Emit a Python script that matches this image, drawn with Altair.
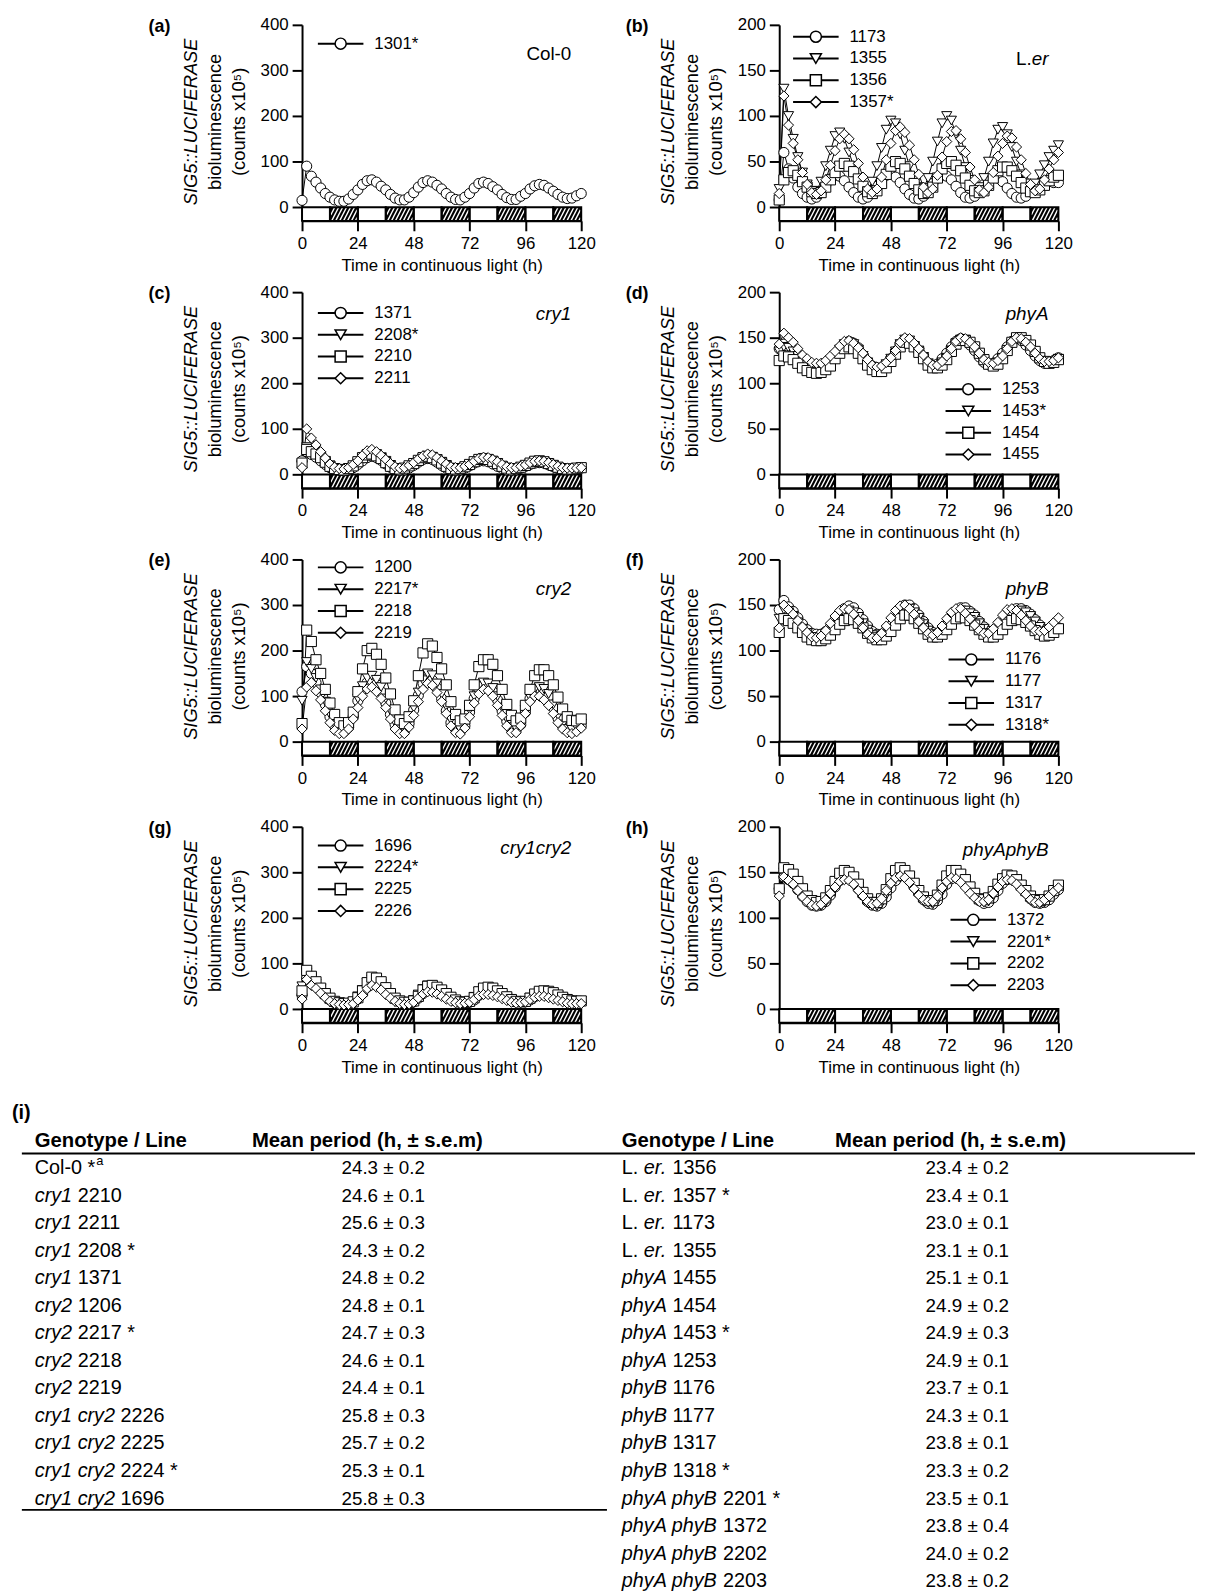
import altair as alt
import pandas as pd

FONT = "Liberation Sans"
HOURS = list(range(0, 121, 2))
SHAPES = ["circle", "triangle-down", "square", "diamond"]
LD_START = list(range(0, 120, 12))
LD_END = list(range(12, 121, 12))
LD_PHASE = ["light", "dark"] * 5
TICKS_X = [0, 24, 48, 72, 96, 120]

# ---------------- series (values every 2 h, 0..120 h) ----------------
a_lines = ["1301*"]
a_1301 = [15, 90, 68, 55, 42, 30, 22, 16, 13, 13, 18, 28, 38, 50, 58, 60, 55, 46, 38, 28,
          20, 16, 16, 22, 32, 44, 54, 58, 55, 48, 40, 30, 22, 17, 16, 22, 30, 42, 52, 55,
          52, 45, 38, 28, 21, 17, 17, 24, 30, 40, 47, 50, 48, 42, 35, 28, 22, 19, 20, 25, 30]

b_lines = ["1173", "1355", "1356", "1357*"]
b_1173 = [8, 60, 42, 32, 22, 15, 11, 9, 11, 16, 24, 31, 35, 34, 29, 22, 16, 11, 9, 11,
          16, 23, 30, 35, 36, 33, 27, 20, 14, 10, 9, 12, 19, 26, 32, 35, 34, 30, 23, 16,
          11, 10, 12, 18, 25, 31, 33, 32, 28, 21, 15, 11, 10, 12, 17, 22, 26, 28, 28, 27, 27]
b_1355 = [20, 130, 100, 75, 55, 38, 25, 17, 18, 28, 45, 62, 78, 82, 75, 60, 45, 30, 22, 19,
          28, 45, 65, 85, 95, 92, 80, 62, 45, 30, 22, 21, 32, 50, 72, 92, 100, 95, 80, 62,
          44, 30, 22, 22, 32, 50, 70, 85, 88, 80, 66, 50, 36, 26, 22, 26, 36, 46, 55, 62, 68]
b_1356 = [8, 30, 38, 40, 35, 28, 22, 17, 15, 16, 22, 30, 38, 45, 48, 45, 39, 31, 23, 17,
          15, 18, 26, 36, 45, 50, 48, 42, 34, 26, 19, 15, 16, 22, 32, 42, 48, 50, 46, 40,
          32, 24, 18, 16, 18, 24, 32, 40, 44, 44, 40, 34, 27, 21, 17, 16, 19, 24, 29, 33, 35]
b_1357 = [15, 122, 90, 70, 52, 38, 25, 16, 14, 18, 30, 46, 62, 75, 80, 75, 63, 48, 33, 20,
          16, 20, 33, 52, 70, 84, 88, 82, 68, 52, 36, 22, 16, 20, 35, 55, 72, 83, 84, 75,
          60, 44, 30, 19, 16, 22, 38, 56, 70, 78, 76, 66, 52, 37, 25, 18, 20, 30, 42, 52, 60]

c_lines = ["1371", "2208*", "2210", "2211"]
c_1371 = [30, 50, 44, 38, 30, 22, 15, 11, 9, 8, 10, 15, 22, 30, 37, 40, 37, 31, 23, 16,
          11, 9, 10, 14, 20, 27, 33, 35, 33, 27, 20, 14, 10, 9, 10, 14, 19, 25, 29, 30,
          28, 23, 18, 13, 10, 9, 10, 14, 18, 22, 25, 26, 25, 21, 17, 13, 11, 10, 11, 12, 14]
c_2208 = [20, 60, 55, 50, 40, 30, 20, 14, 11, 10, 12, 17, 25, 35, 44, 48, 45, 38, 30, 21,
          14, 12, 12, 16, 21, 28, 36, 40, 39, 34, 28, 21, 15, 12, 12, 14, 18, 24, 30, 34,
          33, 30, 25, 19, 14, 12, 12, 14, 18, 23, 27, 28, 27, 24, 20, 16, 13, 12, 12, 13, 14]
c_2210 = [25, 55, 50, 45, 37, 27, 18, 13, 11, 10, 13, 19, 28, 37, 43, 45, 41, 35, 26, 18,
          13, 12, 14, 19, 24, 31, 37, 40, 37, 32, 25, 18, 13, 12, 13, 17, 22, 28, 33, 35,
          33, 29, 24, 18, 14, 12, 13, 16, 20, 25, 29, 30, 28, 24, 20, 16, 13, 12, 12, 14, 15]
c_2211 = [15, 100, 80, 65, 50, 36, 23, 16, 13, 12, 15, 22, 30, 42, 52, 55, 50, 42, 33, 24,
          17, 14, 15, 20, 26, 34, 41, 45, 43, 37, 30, 23, 17, 15, 15, 18, 22, 29, 35, 38,
          37, 33, 28, 22, 17, 15, 15, 18, 21, 26, 29, 30, 29, 26, 22, 18, 15, 14, 14, 14, 15]

d_lines = ["1253", "1453*", "1454", "1455"]
d_1253 = [138, 143, 140, 136, 131, 126, 121, 118, 117, 117, 120, 124, 131, 138, 143, 146, 144, 139, 131, 124,
          119, 117, 117, 121, 127, 135, 143, 148, 147, 142, 135, 128, 121, 119, 121, 127, 133, 140, 146, 149,
          147, 142, 136, 129, 123, 121, 122, 127, 133, 140, 146, 149, 147, 142, 136, 130, 125, 122, 122, 125, 128]
d_1453 = [135, 140, 139, 135, 130, 124, 120, 117, 116, 117, 119, 124, 130, 137, 143, 145, 143, 137, 130, 123,
          118, 116, 117, 121, 127, 135, 143, 148, 147, 141, 136, 129, 122, 119, 119, 123, 128, 136, 144, 148,
          148, 144, 139, 132, 125, 121, 120, 123, 128, 136, 144, 148, 148, 144, 140, 133, 126, 122, 122, 124, 127]
d_1454 = [125, 130, 129, 126, 122, 117, 114, 112, 111, 112, 115, 119, 127, 133, 138, 140, 138, 133, 127, 120,
          115, 113, 113, 117, 124, 132, 140, 145, 144, 140, 134, 127, 120, 117, 117, 120, 126, 135, 143, 147,
          147, 145, 140, 133, 126, 121, 119, 121, 127, 136, 145, 150, 150, 147, 142, 135, 128, 124, 122, 123, 126]
d_1455 = [143, 155, 150, 145, 138, 131, 127, 123, 122, 122, 125, 130, 135, 141, 146, 147, 144, 139, 133, 126,
          120, 118, 119, 123, 128, 136, 145, 150, 149, 144, 138, 131, 124, 120, 120, 124, 130, 138, 146, 150,
          149, 145, 140, 133, 126, 123, 122, 125, 130, 138, 146, 150, 149, 145, 140, 133, 127, 124, 124, 125, 128]

e_lines = ["1200", "2217*", "2218", "2219"]
e_1200 = [110, 165, 150, 130, 108, 82, 55, 36, 25, 22, 32, 55, 90, 115, 130, 135, 126, 110, 85, 60,
          38, 25, 24, 40, 70, 102, 128, 140, 135, 118, 95, 68, 42, 28, 24, 35, 65, 95, 116, 125,
          122, 110, 92, 68, 45, 28, 25, 38, 65, 95, 112, 118, 112, 100, 75, 52, 35, 25, 24, 28, 35]
e_2217 = [90, 175, 160, 140, 115, 88, 60, 38, 28, 25, 38, 62, 95, 122, 140, 145, 136, 120, 95, 68,
          42, 28, 27, 45, 75, 108, 135, 150, 146, 128, 105, 78, 48, 30, 27, 40, 70, 100, 122, 130,
          128, 118, 100, 75, 50, 32, 29, 42, 70, 98, 115, 120, 116, 105, 82, 58, 38, 28, 27, 32, 40]
e_2218 = [40, 245, 220, 180, 150, 115, 85, 60, 42, 35, 42, 65, 110, 160, 200, 205, 192, 170, 140, 105,
          70, 48, 40, 55, 90, 145, 195, 215, 210, 185, 160, 125, 88, 60, 46, 50, 80, 125, 165, 180,
          180, 170, 145, 115, 82, 58, 46, 52, 80, 115, 145, 158, 158, 145, 125, 98, 72, 55, 47, 46, 50]
e_2219 = [28, 120, 130, 112, 92, 68, 42, 25, 18, 18, 28, 50, 75, 100, 116, 120, 110, 95, 75, 50,
          28, 18, 18, 32, 58, 88, 115, 128, 124, 108, 88, 62, 35, 20, 17, 30, 55, 85, 105, 115,
          112, 100, 80, 58, 35, 20, 20, 35, 62, 88, 100, 100, 92, 80, 62, 42, 28, 20, 18, 22, 30]

f_lines = ["1176", "1177", "1317", "1318*"]
f_1176 = [145, 155, 148, 143, 136, 129, 123, 119, 118, 118, 121, 126, 133, 140, 146, 149, 147, 141, 134, 127,
          121, 118, 118, 122, 127, 135, 144, 150, 150, 146, 139, 132, 125, 120, 119, 122, 128, 136, 143, 147,
          147, 143, 139, 132, 126, 121, 120, 123, 128, 135, 142, 146, 146, 144, 140, 134, 128, 123, 121, 122, 125]
f_1177 = [135, 145, 142, 138, 131, 124, 119, 115, 113, 113, 116, 121, 128, 135, 141, 144, 142, 137, 130, 123,
          117, 114, 114, 118, 124, 132, 141, 146, 146, 142, 136, 129, 122, 117, 116, 119, 124, 132, 140, 144,
          144, 141, 137, 130, 124, 119, 118, 121, 125, 132, 139, 143, 144, 142, 138, 132, 126, 121, 119, 120, 123]
f_1317 = [120, 135, 133, 130, 125, 120, 115, 112, 111, 111, 113, 117, 123, 129, 133, 135, 134, 130, 125, 119,
          114, 112, 112, 116, 121, 128, 135, 139, 139, 135, 130, 124, 118, 115, 115, 118, 123, 129, 135, 137,
          136, 133, 128, 123, 118, 115, 115, 118, 123, 129, 133, 135, 134, 131, 127, 122, 118, 116, 117, 120, 124]
f_1318 = [125, 150, 145, 140, 133, 126, 120, 115, 114, 116, 122, 130, 138, 144, 146, 145, 140, 133, 125, 118,
          114, 114, 119, 127, 136, 144, 149, 150, 146, 140, 132, 125, 119, 117, 120, 127, 135, 142, 146, 146,
          141, 135, 128, 122, 119, 119, 124, 131, 139, 145, 146, 144, 139, 133, 127, 122, 121, 122, 126, 131, 136]

g_lines = ["1696", "2224*", "2225", "2226"]
g_1696 = [30, 68, 58, 50, 40, 30, 20, 14, 11, 10, 11, 14, 22, 34, 48, 55, 54, 48, 40, 30,
          21, 16, 13, 13, 16, 24, 34, 42, 45, 43, 38, 31, 24, 19, 15, 14, 15, 20, 30, 38,
          42, 41, 37, 32, 26, 21, 17, 16, 16, 20, 27, 32, 35, 36, 34, 30, 26, 22, 19, 17, 16]
g_2224 = [50, 80, 68, 55, 44, 32, 22, 15, 12, 11, 12, 16, 28, 42, 58, 65, 62, 55, 42, 31,
          22, 16, 13, 14, 20, 32, 44, 52, 51, 46, 40, 32, 24, 18, 15, 14, 18, 27, 38, 45,
          46, 44, 38, 32, 25, 19, 16, 15, 18, 25, 33, 37, 38, 36, 33, 28, 23, 19, 17, 16, 18]
g_2225 = [40, 85, 72, 60, 46, 34, 24, 17, 14, 12, 13, 16, 25, 40, 58, 70, 68, 60, 47, 34,
          24, 18, 15, 15, 18, 28, 42, 50, 52, 48, 42, 34, 26, 20, 16, 15, 17, 25, 38, 46,
          48, 46, 40, 34, 27, 21, 17, 16, 17, 24, 33, 39, 40, 39, 36, 31, 26, 21, 18, 17, 18]
g_2226 = [22, 65, 52, 45, 35, 25, 17, 12, 10, 9, 10, 12, 20, 30, 45, 52, 48, 42, 32, 24,
          17, 12, 10, 11, 15, 24, 33, 38, 37, 33, 28, 22, 17, 14, 12, 13, 15, 21, 29, 32,
          32, 30, 27, 23, 19, 15, 13, 14, 16, 21, 26, 28, 28, 25, 22, 19, 16, 13, 12, 12, 12]

h_lines = ["1372", "2201*", "2202", "2203"]
h_1372 = [132, 145, 142, 138, 131, 124, 118, 114, 113, 114, 118, 125, 134, 141, 144, 143, 139, 132, 125, 118,
          114, 113, 116, 123, 133, 141, 146, 146, 141, 134, 127, 120, 116, 115, 119, 126, 137, 143, 145, 144,
          139, 132, 125, 119, 116, 117, 122, 130, 138, 142, 143, 140, 135, 128, 121, 117, 116, 117, 120, 126, 131]
h_2201 = [128, 150, 146, 142, 134, 126, 120, 115, 113, 113, 117, 125, 135, 143, 147, 147, 142, 134, 126, 119,
          114, 113, 116, 125, 136, 145, 151, 150, 145, 137, 129, 122, 117, 115, 119, 129, 140, 147, 149, 147,
          141, 133, 126, 120, 117, 118, 124, 133, 140, 145, 146, 142, 136, 129, 122, 118, 116, 117, 121, 127, 132]
h_2202 = [132, 155, 153, 148, 140, 132, 124, 119, 117, 118, 122, 130, 140, 149, 152, 150, 145, 137, 128, 121,
          117, 117, 121, 131, 143, 152, 155, 152, 146, 138, 130, 123, 119, 119, 125, 136, 146, 152, 152, 148,
          142, 134, 127, 121, 120, 122, 129, 137, 143, 147, 146, 142, 136, 130, 124, 120, 119, 120, 124, 130, 136]
h_2203 = [124, 145, 141, 137, 130, 123, 118, 114, 113, 115, 120, 127, 134, 140, 142, 141, 137, 130, 124, 118,
          115, 116, 121, 130, 138, 144, 146, 144, 139, 132, 125, 120, 118, 118, 124, 133, 140, 144, 143, 139,
          133, 127, 122, 118, 118, 120, 127, 134, 140, 142, 141, 137, 131, 126, 120, 117, 117, 120, 124, 129, 133]

# ---------------- table (i) ----------------
left_geno = ["Col-0", "cry1", "cry1", "cry1", "cry1", "cry2", "cry2", "cry2", "cry2",
             "cry1 cry2", "cry1 cry2", "cry1 cry2", "cry1 cry2"]
left_line = ["", "2210", "2211", "2208", "1371", "1206", "2217", "2218", "2219",
             "2226", "2225", "2224", "1696"]
left_star = [1, 0, 0, 1, 0, 0, 1, 0, 0, 0, 0, 1, 0]
left_mean = [24.3, 24.6, 25.6, 24.3, 24.8, 24.8, 24.7, 24.6, 24.4, 25.8, 25.7, 25.3, 25.8]
left_sem = [0.2, 0.1, 0.3, 0.2, 0.2, 0.1, 0.3, 0.1, 0.1, 0.3, 0.2, 0.1, 0.3]

right_geno = ["L. er.", "L. er.", "L. er.", "L. er.", "phyA", "phyA", "phyA", "phyA",
              "phyB", "phyB", "phyB", "phyB", "phyA phyB", "phyA phyB", "phyA phyB", "phyA phyB"]
right_line = ["1356", "1357", "1173", "1355", "1455", "1454", "1453", "1253",
              "1176", "1177", "1317", "1318", "2201", "1372", "2202", "2203"]
right_star = [0, 1, 0, 0, 0, 0, 1, 0, 0, 0, 0, 1, 1, 0, 0, 0]
right_mean = [23.4, 23.4, 23.0, 23.1, 25.1, 24.9, 24.9, 24.9, 23.7, 24.3, 23.8, 23.3, 23.5, 23.8, 24.0, 23.8]
right_sem = [0.2, 0.1, 0.1, 0.1, 0.1, 0.2, 0.3, 0.1, 0.1, 0.1, 0.1, 0.2, 0.1, 0.4, 0.2, 0.2]

# Arial / Liberation Sans advance widths (per 1000 em)
CW = {' ': 278, '*': 389, '-': 333, '.': 278, '/': 278, 'A': 667, 'B': 667, 'C': 722,
      'L': 556, 'a': 556, 'c': 500, 'e': 556, 'h': 556, 'l': 222, 'o': 556, 'p': 556,
      'r': 333, 'y': 500}


def tw(s, fs):
    return sum(CW.get(ch, 556) for ch in s) / 1000.0 * fs


DUMMY = pd.DataFrame({"d": [0]})
W, H = 282, 198


def make_panel(tag, geno, geno_y, names, series, ymax, leg):
    ymin = -30 if ymax == 400 else -15
    ticks = list(range(0, ymax + 1, ymax // 4))
    xs = alt.Scale(domain=[0, 120], nice=False, zero=False)
    ys = alt.Scale(domain=[ymin, ymax], nice=False, zero=False)
    x_axis = alt.Axis(values=TICKS_X, title="Time in continuous light (h)", labelFlush=False,
                      tickSize=10, labelPadding=5, titlePadding=6, format="d")
    y_axis = alt.Axis(values=ticks, title="", labelFlush=False, tickSize=10,
                      labelPadding=4, format="d")

    def X(f):
        return alt.X(f, scale=xs, axis=x_axis)

    def Y(f):
        return alt.Y(f, scale=ys, axis=y_axis)

    recs = []
    for i, (n, vals) in enumerate(zip(names, series)):
        assert len(vals) == len(HOURS), (tag, n, len(vals))
        for t, v in zip(HOURS, vals):
            recs.append({"t": t, "v": v, "line": n, "shp": SHAPES[i]})
    df = pd.DataFrame(recs)

    bars = pd.DataFrame({"s": LD_START, "e": LD_END,
                         "fill": ["white" if p == "light" else "black" for p in LD_PHASE],
                         "top": 0, "bot": ymin})
    stripes = []
    run, step, inset = 3.0, 1.7, 0.35
    for s, e, ph in zip(LD_START, LD_END, LD_PHASE):
        if ph != "dark":
            continue
        L, R = s + inset, e - inset
        b = L - run
        while b < R:
            lo = max(0.0, (L - b) / run)
            hi = min(1.0, (R - b) / run)
            if hi > lo:
                stripes.append({"x1": b + run * lo, "y1": ymin * (1 - lo),
                                "x2": b + run * hi, "y2": ymin * (1 - hi)})
            b += step
    sdf = pd.DataFrame(stripes)

    layers = []
    layers.append(alt.Chart(bars).mark_rect(strokeWidth=0).encode(
        x=X("s:Q"), x2="e:Q", y=Y("top:Q"), y2="bot:Q",
        fill=alt.Fill("fill:N", scale=None)))
    layers.append(alt.Chart(sdf).mark_rule(color="white", strokeWidth=1.4).encode(
        x=X("x1:Q"), x2="x2:Q", y=Y("y1:Q"), y2="y2:Q"))
    layers.append(alt.Chart(bars).mark_rect(fillOpacity=0, stroke="black", strokeWidth=2).encode(
        x=X("s:Q"), x2="e:Q", y=Y("top:Q"), y2="bot:Q"))
    layers.append(alt.Chart(df).mark_line(color="black", strokeWidth=1).encode(
        x=X("t:Q"), y=Y("v:Q"), detail="line:N", order="t:Q"))
    layers.append(alt.Chart(df).mark_point(filled=True, fill="white", stroke="black",
                                           strokeWidth=1, size=105, opacity=1).encode(
        x=X("t:Q"), y=Y("v:Q"), shape=alt.Shape("shp:N", scale=None)))

    # legend drawn as marks
    lx, ly0 = leg
    for i, nm in enumerate(names):
        yy = ly0 + 22 * i
        layers.append(alt.Chart(DUMMY).mark_rule(color="black", strokeWidth=2).encode(
            x=alt.value(lx), x2=alt.value(lx + 46), y=alt.value(yy)))
        layers.append(alt.Chart(DUMMY).mark_point(shape=SHAPES[i], filled=True, fill="white",
                                                  stroke="black", strokeWidth=1.5, size=125,
                                                  opacity=1).encode(
            x=alt.value(lx + 23), y=alt.value(yy)))
        layers.append(alt.Chart(DUMMY).mark_text(text=nm, align="left", baseline="middle",
                                                 fontSize=17).encode(
            x=alt.value(lx + 57), y=alt.value(yy)))

    # genotype label (right aligned)
    gx = 272
    for txt, st in reversed(geno):
        layers.append(alt.Chart(DUMMY).mark_text(text=txt, fontStyle=st, fontSize=19, align="right",
                                                 baseline="middle").encode(
            x=alt.value(gx), y=alt.value(geno_y)))
        gx -= tw(txt, 19)

    # panel tag
    layers.append(alt.Chart(DUMMY).mark_text(text=tag, fontWeight="bold", fontSize=18, align="left",
                                             baseline="middle").encode(
        x=alt.value(-155), y=alt.value(2)))

    # y title (three rotated lines)
    for txt, st, xo in [("SIG5::LUCIFERASE", "italic", -112),
                        ("bioluminescence", "normal", -88),
                        ("(counts x10\u2075)", "normal", -64)]:
        layers.append(alt.Chart(DUMMY).mark_text(text=txt, fontStyle=st, fontSize=18.5, angle=270,
                                                 align="center", baseline="middle").encode(
            x=alt.value(xo), y=alt.value(98)))

    return alt.layer(*layers).properties(width=W, height=H)


pa = make_panel("(a)", [("Col-0", "normal")], 30, a_lines, [a_1301], 400, (16, 19))
pb = make_panel("(b)", [("L.", "normal"), ("er", "italic")], 35, b_lines,
                [b_1173, b_1355, b_1356, b_1357], 200, (14, 12))
pc = make_panel("(c)", [("cry1", "italic")], 22, c_lines, [c_1371, c_2208, c_2210, c_2211], 400, (16, 21))
pd_ = make_panel("(d)", [("phyA", "italic")], 22, d_lines, [d_1253, d_1453, d_1454, d_1455], 200, (168, 98))
pe = make_panel("(e)", [("cry2", "italic")], 30, e_lines, [e_1200, e_2217, e_2218, e_2219], 400, (16, 8))
pf = make_panel("(f)", [("phyB", "italic")], 30, f_lines, [f_1176, f_1177, f_1317, f_1318], 200, (171, 101))
pg = make_panel("(g)", [("cry1cry2", "italic")], 22, g_lines, [g_1696, g_2224, g_2225, g_2226], 400, (16, 19))
ph = make_panel("(h)", [("phyAphyB", "italic")], 24, h_lines, [h_1372, h_2201, h_2202, h_2203], 200, (173, 94))


# ---------------- table cells ----------------
def row_segments(geno, line, star):
    if geno == "Col-0":
        return [("Col-0 *", "normal"), ("a", "sup")]
    if geno.startswith("L."):
        parts = [("L. ", "normal"), ("er.", "italic")]
    else:
        parts = [(geno, "italic")]
    parts.append((" " + line + (" *" if star else ""), "normal"))
    return parts


FS = 20
DY = 7
ROW0, ROWSTEP = 68 + DY, 27.8


def table_cell(x0, vx, hx, genos, lines, stars, means, sems, extra):
    trecs, vrecs = [], []
    for i, (g, l, s, m, e) in enumerate(zip(genos, lines, stars, means, sems)):
        y = ROW0 + i * ROWSTEP
        x = x0
        for txt, st in row_segments(g, l, s):
            if st == "sup":
                trecs.append({"px": x + 1, "py": y - 7, "text": txt, "st": st})
                continue
            lead = len(txt) - len(txt.lstrip(" "))
            x += tw(" " * lead, FS)
            core = txt.strip(" ")
            trecs.append({"px": x, "py": y, "text": core, "st": st})
            x += tw(txt.lstrip(" "), FS)
        vrecs.append({"px": vx, "py": y, "text": f"{m:.1f} \u00b1 {e:.1f}"})
    tdf = pd.DataFrame(trecs)
    vdf = pd.DataFrame(vrecs)
    tl = []
    for st, fs in [("normal", FS), ("italic", FS), ("sup", 13)]:
        sub = tdf[tdf["st"] == st]
        if len(sub) == 0:
            continue
        tl.append(alt.Chart(sub).mark_text(
            align="left", baseline="middle", fontSize=fs,
            fontStyle="italic" if st == "italic" else "normal").encode(
            x=alt.X("px:Q", scale=None), y=alt.Y("py:Q", scale=None), text="text:N"))
    tl.append(alt.Chart(vdf).mark_text(align="center", baseline="middle", fontSize=19).encode(
        x=alt.X("px:Q", scale=None), y=alt.Y("py:Q", scale=None), text="text:N"))
    tl.append(alt.Chart(DUMMY).mark_text(text="Genotype / Line", fontWeight="bold", fontSize=20.5,
                                         align="left", baseline="middle").encode(
        x=alt.value(x0), y=alt.value(40 + DY)))
    tl.append(alt.Chart(DUMMY).mark_text(text="Mean period (h, \u00b1 s.e.m)", fontWeight="bold",
                                         fontSize=20.5, align="center", baseline="middle").encode(
        x=alt.value(hx), y=alt.value(40 + DY)))
    tl.extend(extra)
    return alt.layer(*tl).properties(width=W, height=490)


left_extra = [
    alt.Chart(DUMMY).mark_text(text="(i)", fontWeight="bold", fontSize=20, align="left",
                               baseline="middle").encode(x=alt.value(-293), y=alt.value(12 + DY)),
    alt.Chart(DUMMY).mark_rule(color="black", strokeWidth=2).encode(
        x=alt.value(-283), x2=alt.value(902), y=alt.value(53 + DY)),
    alt.Chart(DUMMY).mark_rule(color="black", strokeWidth=2).encode(
        x=alt.value(-283), x2=alt.value(308), y=alt.value(413 + DY)),
]
tleft = table_cell(-270, 82, 66, left_geno, left_line, left_star, left_mean, left_sem, left_extra)
tright = table_cell(-159, 190, 173, right_geno, right_line, right_star, right_mean, right_sem, [])

# ---------------- assemble ----------------
chart = alt.concat(pa, pb, pc, pd_, pe, pf, pg, ph, tleft, tright, columns=2,
                   spacing={"row": 72, "column": 200}, bounds="flush").properties(
    padding={"left": 4, "top": 0, "right": 2, "bottom": 0}
).configure_view(stroke=None).configure_axis(
    labelFont=FONT, titleFont=FONT, labelFontSize=17, titleFontSize=17, titleFontWeight="normal",
    labelColor="black", titleColor="black", domainColor="black", tickColor="black",
    domainWidth=2, tickWidth=2, grid=False
).configure_text(font=FONT, color="black")

chart.save("out.html", embed_options={"renderer": "svg", "actions": False})
